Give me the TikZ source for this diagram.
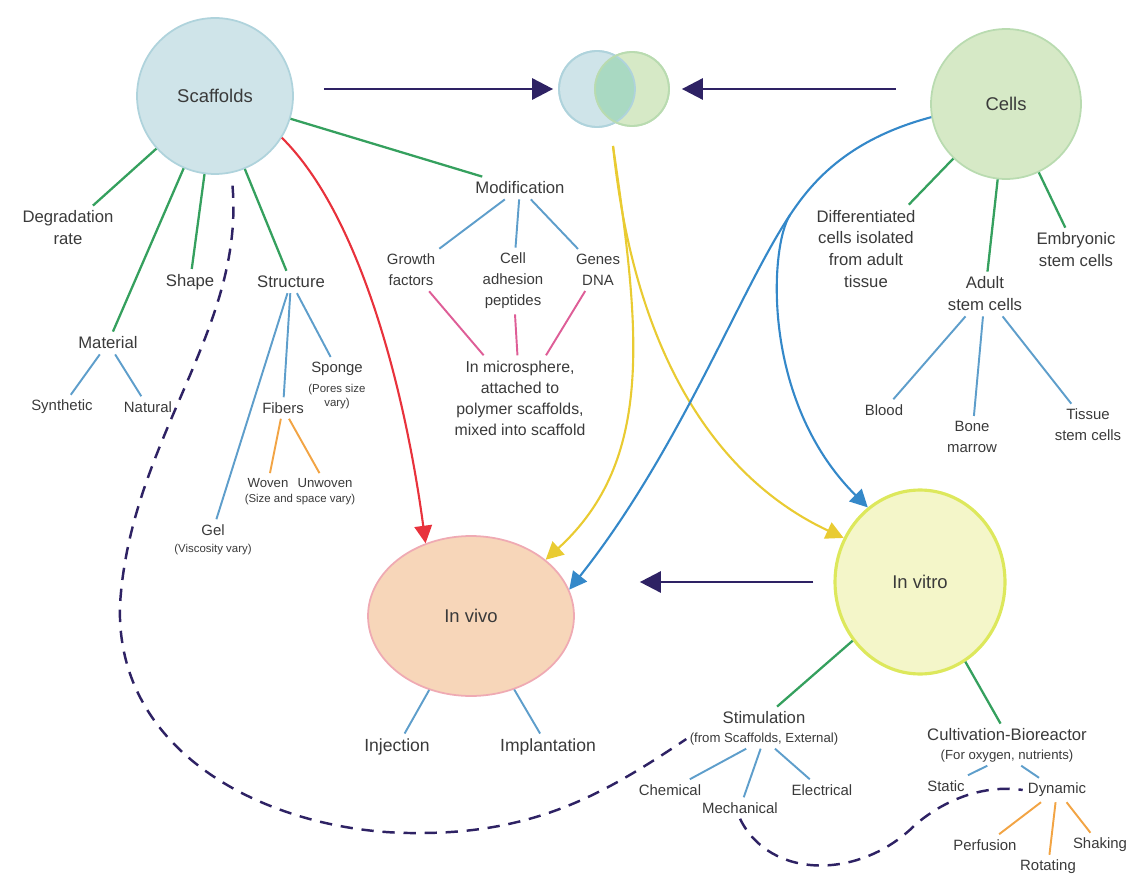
\documentclass[tikz,border=0pt]{standalone}
\usepackage{fontspec}
\setmainfont{Liberation Sans}
\usetikzlibrary{arrows.meta,positioning,shapes.geometric}

\definecolor{txt}{HTML}{3A3A3A}
\definecolor{scafFill}{HTML}{CFE4E9}
\definecolor{scafLine}{HTML}{AFD3DC}
\definecolor{cellFill}{HTML}{D6E9C6}
\definecolor{cellLine}{HTML}{B9DBB0}
\definecolor{overlapFill}{HTML}{A9D9C2}
\definecolor{vivoFill}{HTML}{F7D6B9}
\definecolor{vivoLine}{HTML}{EFAAB3}
\definecolor{vitroFill}{HTML}{F4F6C9}
\definecolor{vitroLine}{HTML}{DDE85C}
\definecolor{branchGreen}{HTML}{35A05E}
\definecolor{branchBlue}{HTML}{5E9ECB}
\definecolor{branchPink}{HTML}{DE5E97}
\definecolor{branchOrange}{HTML}{F2A444}
\definecolor{flowRed}{HTML}{E8323C}
\definecolor{flowYellow}{HTML}{E9CB32}
\definecolor{flowBlue}{HTML}{3488C9}
\definecolor{flowPurple}{HTML}{2E2264}

\begin{document}
\begin{tikzpicture}[x=0.02cm, y=-0.02cm,
  hub/.style={circle, line width=1pt, text=txt, font=\fontsize{10.5}{12}\selectfont},
  lbl/.style={align=center, text=txt, inner sep=1.5pt, outer sep=1.5pt, font=\fontsize{9.5}{12.5}\selectfont},
  sml/.style={lbl, font=\fontsize{8.5}{12}\selectfont},
  note/.style={lbl, font=\fontsize{6.5}{8}\selectfont, inner sep=0.5pt},
  grn/.style={branchGreen, line width=1.3pt},
  blu/.style={branchBlue, line width=1.1pt},
  pnk/.style={branchPink, line width=1.1pt},
  org/.style={branchOrange, line width=1.1pt},
  flow/.style={line width=1.2pt, -{Triangle[length=10pt,width=10pt]}},
  mainarrow/.style={flowPurple, line width=1.6pt, -{Triangle[length=12pt,width=12pt]}},
  dashlink/.style={flowPurple, line width=1.4pt, dash pattern=on 7pt off 5pt}]
\useasboundingbox (0,0) rectangle (1142,878);

\node[hub, minimum size=3.12cm, fill=scafFill, draw=scafLine] (scaf) at (215,96) {Scaffolds};
\node[hub, minimum size=1.52cm, fill=scafFill, draw=scafLine] (vennL) at (597,89) {};
\node[hub, minimum size=1.48cm, fill=cellFill, draw=cellLine] (vennR) at (632,89) {};
\begin{scope}
  \clip (vennL.center) circle[radius=0.76cm];
  \fill[overlapFill] (vennR.center) circle[radius=0.74cm];
\end{scope}
\draw[scafLine, line width=1pt] (vennL.center) circle[radius=0.76cm];
\draw[cellLine, line width=1pt] (vennR.center) circle[radius=0.74cm];
\node[hub, minimum size=3cm, fill=cellFill, draw=cellLine] (cells) at (1006,104) {Cells};
\node[hub, ellipse, minimum width=4.12cm, minimum height=3.2cm, fill=vivoFill, draw=vivoLine] (invivo) at (471,616) {In vivo};
\node[hub, ellipse, minimum width=3.4cm, minimum height=3.68cm, fill=vitroFill, draw=vitroLine, line width=1.8pt] (invitro) at (920,582) {In vitro};

\node[lbl] (degr) at (68,228) {Degradation\\rate};
\node[lbl] (shape) at (190,282) {Shape};
\node[lbl] (material) at (108,343) {Material};
\node[sml] (synth) at (62,407) {Synthetic};
\node[sml] (natural) at (148,407) {Natural};
\node[lbl] (structure) at (291,282) {Structure};
\node[sml] (sponge) at (337,369) {Sponge};
\node[note, below=0pt of sponge] (spongenote) {(Pores size\\vary)};
\node[sml] (fibers) at (283,408) {Fibers};
\node[sml, font=\fontsize{7.5}{9}\selectfont] (woven) at (268,483) {Woven};
\node[sml, font=\fontsize{7.5}{9}\selectfont] (unwoven) at (325,483) {Unwoven};
\node[note] (wovennote) at (300,500) {(Size and space vary)};
\node[sml] (gel) at (213,530) {Gel};
\node[note, below=0pt of gel] (gelnote) {(Viscosity vary)};

\node[lbl] (modif) at (520,188) {Modification};
\node[sml] (growth) at (411,270) {Growth\\factors};
\node[sml] (adhesion) at (513,281) {Cell\\adhesion\\peptides};
\node[sml] (genes) at (598,270) {Genes\\DNA};
\node[lbl, font=\fontsize{9}{12}\selectfont] (micro) at (520,398) {In microsphere,\\attached to\\polymer scaffolds,\\mixed into scaffold};

\node[lbl] (diff) at (866,249) {Differentiated\\cells isolated\\from adult\\tissue};
\node[lbl] (adult) at (985,294) {Adult\\stem cells};
\node[lbl] (embryo) at (1076,250) {Embryonic\\stem cells};
\node[sml] (blood) at (884,410) {Blood};
\node[sml] (bone) at (972,437) {Bone\\marrow};
\node[sml] (tissue) at (1088,425) {Tissue\\stem cells};

\node[lbl, font=\fontsize{10}{12}\selectfont] (injection) at (397,747) {Injection};
\node[lbl, font=\fontsize{10}{12}\selectfont] (implant) at (548,747) {Implantation};
\node[lbl] (stim) at (764,718) {Stimulation};
\node[note, font=\fontsize{7.5}{9}\selectfont, below=0pt of stim] (stimnote) {(from Scaffolds, External)};
\node[sml] (chem) at (670,790) {Chemical};
\node[sml] (mech) at (740,808) {Mechanical};
\node[sml] (elec) at (822,790) {Electrical};
\node[lbl] (cult) at (1007,735) {Cultivation-Bioreactor};
\node[note, font=\fontsize{7.5}{9}\selectfont, below=0pt of cult] (cultnote) {(For oxygen, nutrients)};
\node[sml] (static) at (946,786) {Static};
\node[sml] (dynamic) at (1057,790) {Dynamic};
\node[sml] (perf) at (985,845) {Perfusion};
\node[sml] (rot) at (1048,867) {Rotating};
\node[sml] (shak) at (1100,845) {Shaking};

\draw[grn] (scaf) edge (degr) edge (shape) edge (material) edge (structure) edge (modif);
\draw[grn] (cells) edge (diff) edge (adult) edge (embryo);
\draw[grn] (invitro) edge (stim) edge (cult);
\draw[blu] (material) edge (synth) edge (natural);
\draw[blu] (structure) edge (gel) edge (fibers) edge (sponge);
\draw[blu] (modif) edge (growth) edge (adhesion) edge (genes);
\draw[blu] (adult) edge (blood) edge (bone) edge (tissue);
\draw[blu] (invivo) edge (injection) edge (implant);
\draw[blu] (stimnote) edge (chem) edge (mech) edge (elec);
\draw[blu] (cultnote) edge (static) edge (dynamic);
\draw[org] (fibers) edge (woven) edge (unwoven);
\draw[org] (dynamic) edge (perf) edge (rot) edge (shak);
\draw[pnk] (micro) edge (growth) edge (adhesion) edge (genes);

\draw[mainarrow, shorten <=0.6cm, shorten >=0.1cm] (scaf.east |- vennL.west) -- (vennL.west);
\draw[mainarrow, shorten <=0.68cm, shorten >=0.24cm] (cells.west |- vennR.east) -- (vennR.east);
\draw[mainarrow, shorten <=0.4cm, shorten >=1.3cm] (invitro.west) -- (invitro.west -| invivo.east);

\coordinate (yel) at (613,146);
\coordinate (split) at (790,215);
\draw[flow, flowRed] (scaf.-32) .. controls (360,215) and (405,390) .. (invivo.122);
\draw[flow, flowYellow] (yel) .. controls (640,330) and (655,460) .. (invivo.37);
\draw[flow, flowYellow] (yel) .. controls (635,360) and (720,480) .. (invitro.150);
\draw[flow, flowBlue] (cells.190) .. controls (845,140) and (810,185) .. (split) .. controls (740,290) and (680,450) .. (invivo.15);
\draw[flow, flowBlue] (split) .. controls (770,245) and (760,400) .. (invitro.125);

\draw[dashlink, shorten <=0.25cm] (scaf.-78) .. controls (245,330) and (130,440) .. (120,605) .. controls (115,760) and (280,835) .. (420,833) .. controls (540,833) and (610,790) .. (stimnote.west);
\draw[dashlink] (mech.south) .. controls (770,880) and (860,880) .. (915,825) .. controls (950,795) and (990,785) .. (dynamic.west);
\end{tikzpicture}
\end{document}
